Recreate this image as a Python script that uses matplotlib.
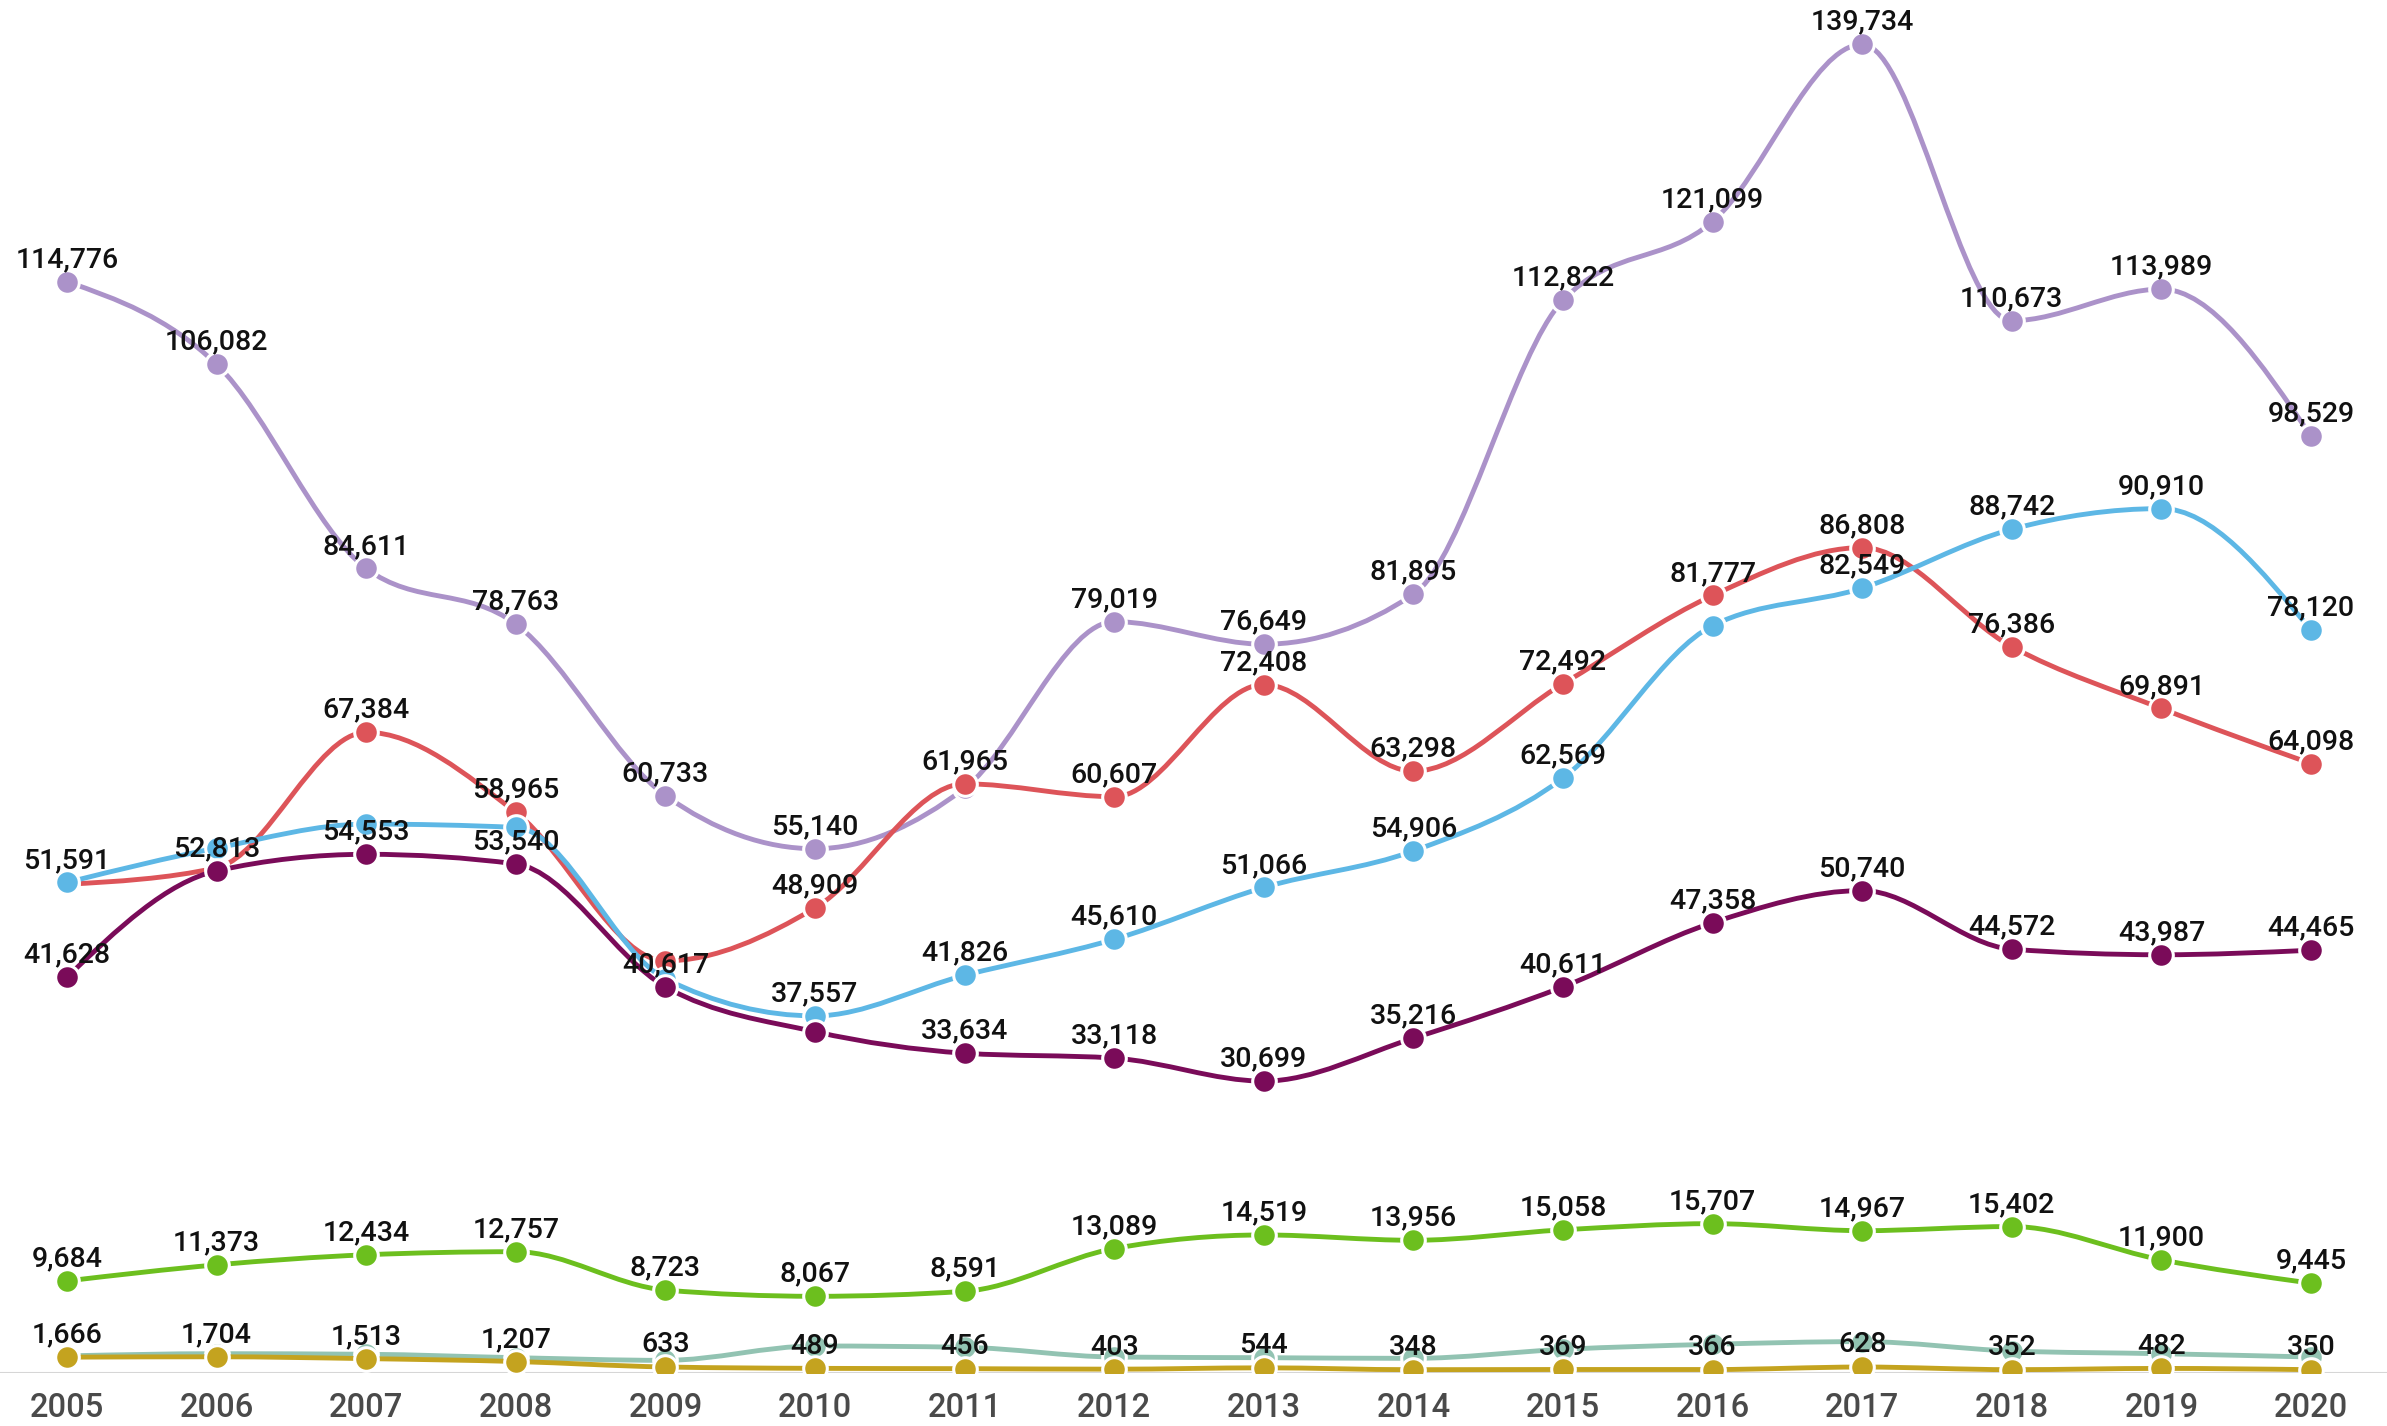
import numpy as np
import matplotlib
matplotlib.use("Agg")
import matplotlib.pyplot as plt
from matplotlib.path import Path
from matplotlib.patches import PathPatch

# ---------------- data ----------------
years = list(range(2005, 2021))

purple = [114776, 106082, 84611, 78763, 60733, 55140, 61500, 79019,
          76649, 81895, 112822, 121099, 139734, 110673, 113989, 98529]
red = [51400, 53130, 67384, 58965, 43350, 48909, 61965, 60607,
       72408, 63298, 72492, 81777, 86808, 76386, 69891, 64098]
blue = [51591, 55210, 57730, 57380, 41450, 37557, 41826, 45610,
        51066, 54906, 62569, 78600, 82549, 88742, 90910, 78120]
darkpurple = [41628, 52813, 54553, 53540, 40617, 35900, 33634, 33118,
              30699, 35216, 40611, 47358, 50740, 44572, 43987, 44465]
green = [9684, 11373, 12434, 12757, 8723, 8067, 8591, 13089,
         14519, 13956, 15058, 15707, 14967, 15402, 11900, 9445]
teal = [1800, 2030, 1970, 1610, 1330, 2840, 2700, 1680,
        1610, 1540, 2490, 3020, 3300, 2310, 2030, 1680]
gold = [1666, 1704, 1513, 1207, 633, 489, 456, 403,
        544, 348, 369, 366, 628, 352, 482, 350]

# years whose value label is not displayed in the reference
hidden_labels = {
    "purple": [2011],
    "red": [2005, 2006, 2009],
    "blue": [2006, 2007, 2008, 2009, 2016],
    "darkpurple": [2010],
    "green": [],
    "teal": years,
    "gold": [],
}

series = [  # bottom to top drawing order
    ("purple", purple, "#AB92C9"),
    ("red", red, "#DD5459"),
    ("blue", blue, "#5DB7E5"),
    ("darkpurple", darkpurple, "#7A0B59"),
    ("green", green, "#6CBF1E"),
    ("teal", teal, "#92C3B2"),
    ("gold", gold, "#C4A31F"),
]


def monotone_path(xs, ys):
    """d3 curveMonotoneX as cubic Bezier path."""
    xs = np.asarray(xs, float)
    ys = np.asarray(ys, float)
    n = len(xs)
    h = np.diff(xs)
    s = np.diff(ys) / h
    t = np.zeros(n)
    for i in range(1, n - 1):
        h0, h1 = h[i - 1], h[i]
        s0, s1 = s[i - 1], s[i]
        p = (s0 * h1 + s1 * h0) / (h0 + h1)
        t[i] = (np.sign(s0) + np.sign(s1)) * min(abs(s0), abs(s1), 0.5 * abs(p))
    t[0] = (3 * s[0] - t[1]) / 2
    t[-1] = (3 * s[-1] - t[-2]) / 2
    verts = [(xs[0], ys[0])]
    codes = [Path.MOVETO]
    for i in range(n - 1):
        dx = (xs[i + 1] - xs[i]) / 3
        verts += [(xs[i] + dx, ys[i] + dx * t[i]),
                  (xs[i + 1] - dx, ys[i + 1] - dx * t[i + 1]),
                  (xs[i + 1], ys[i + 1])]
        codes += [Path.CURVE4] * 3
    return Path(verts, codes)


W, H = 2387, 1426
fig = plt.figure(figsize=(W / 100, H / 100), dpi=100)
base_px = 1373
ax = fig.add_axes([0, (H - base_px) / H, 1, base_px / H])
ax.set_xlim(2005 - 67 / 149.6, 2020 + 76 / 149.6)
ax.set_ylim(0, 144400)
for sp in ax.spines.values():
    sp.set_visible(False)
ax.set_yticks([])
ax.axhline(0, color="#d6d6d6", lw=2.2, zorder=1)

z = 2
for name, vals, col in series:
    ax.add_patch(PathPatch(monotone_path(years, vals), fill=False,
                           edgecolor=col, lw=3.5, zorder=z,
                           capstyle="round", joinstyle="round"))
    ax.plot(years, vals, ls="none", marker="o", ms=17, mfc=col,
            mec="white", mew=2.2, zorder=z + 0.5)
    z += 1

for name, vals, col in series:
    for yr, v in zip(years, vals):
        if yr in hidden_labels[name]:
            continue
        ax.annotate(f"{v:,}", (yr, v), xytext=(0, 10.5),
                    textcoords="offset points", ha="center", va="baseline",
                    fontsize=20.5, family=["Roboto", "DejaVu Sans"],
                    fontweight="medium",
                    color="#111111", zorder=20, annotation_clip=False)

ax.set_xticks(years)
ax.set_xticklabels([str(y) for y in years], fontsize=23.5,
                   family=["Roboto", "DejaVu Sans"], fontweight="medium",
                   color="#4a4a4a")
ax.tick_params(axis="x", length=0, pad=14)

fig.savefig("out.png", dpi=100, facecolor="white")
